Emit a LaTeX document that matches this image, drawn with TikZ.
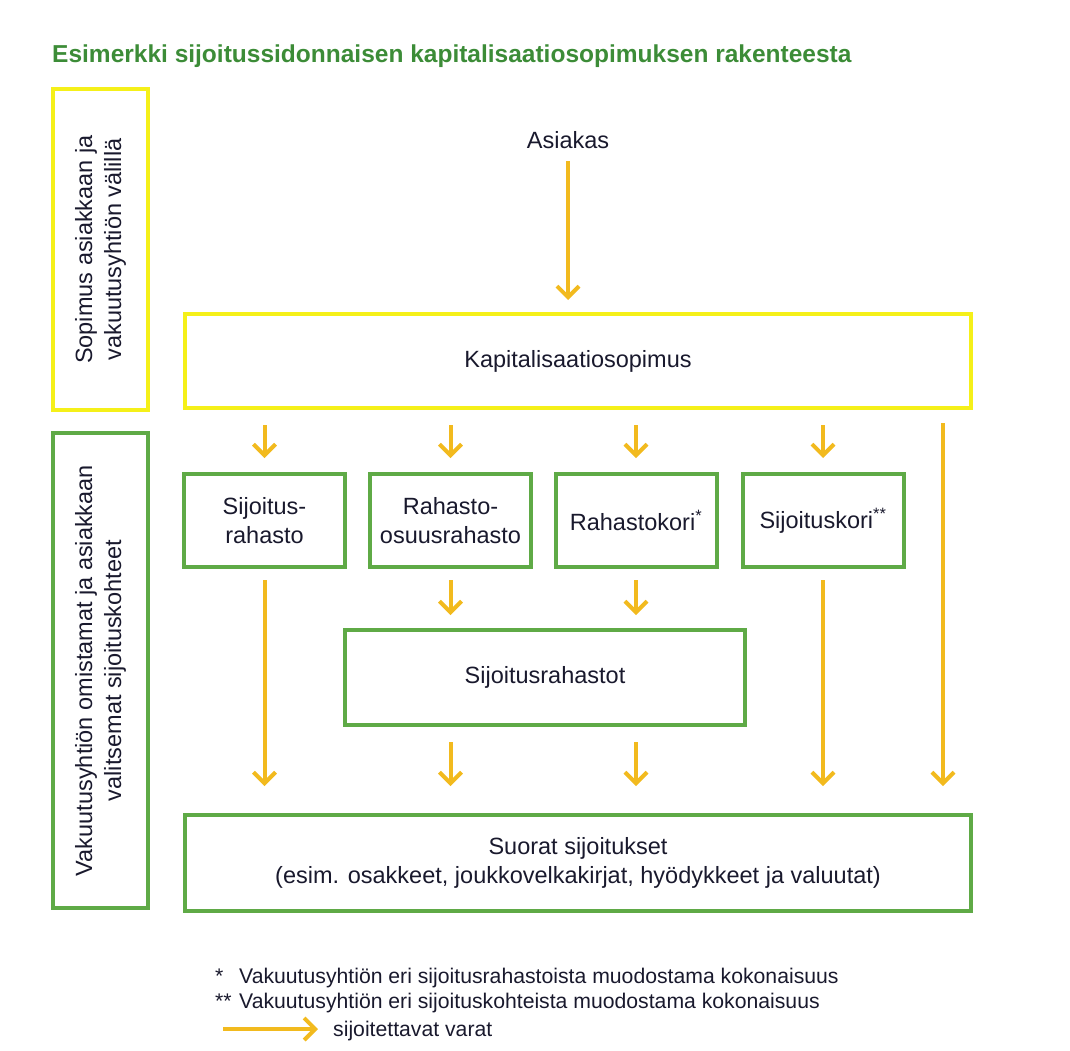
\documentclass[tikz,border=0pt]{standalone}
\usepackage{fontspec}
\setmainfont{Liberation Sans}
\usetikzlibrary{arrows.meta}
\definecolor{kulta}{RGB}{242,186,30}
\definecolor{keltaviiva}{RGB}{245,240,25}
\definecolor{vihrviiva}{RGB}{95,170,70}
\definecolor{otsikko}{RGB}{60,140,55}
\definecolor{tumma}{RGB}{25,25,45}
\begin{document}
\begin{tikzpicture}[x=1pt,y=-1pt,
   teksti/.style={text=tumma,font=\fontsize{23.5}{29}\selectfont,align=center},
   keltainen/.style={teksti,draw=keltaviiva,line width=4pt,inner sep=0pt},
   vihrea/.style={teksti,draw=vihrviiva,line width=4pt,inner sep=0pt},
   nuoli/.style={draw=kulta,line width=4pt,-{Straight Barb[length=11pt,width=22pt,line width=4pt]}}]
   \useasboundingbox (0,0) rectangle (1070,1050);

   % otsikko
   \node[anchor=base west,inner sep=0pt,text=otsikko,font=\fontsize{24.5}{28}\selectfont\bfseries] (otsikko) at (52,62) {Esimerkki sijoitussidonnaisen kapitalisaatiosopimuksen rakenteesta};

   % vasemman reunan laatikot
   \node[keltainen,rotate=90,minimum width=321,minimum height=95] (sopimus) at (100.5,249.5) {Sopimus asiakkaan ja\\vakuutusyhtiön välillä};
   \node[vihrea,rotate=90,minimum width=475,minimum height=95] (kohteet) at (100.5,670.5) {Vakuutusyhtiön omistamat ja asiakkaan\\valitsemat sijoituskohteet};

   % kaavio
   \node[teksti] (asiakas) at (568,140) {Asiakas};
   \node[keltainen,minimum width=786,minimum height=94] (kapital) at (578,361) {Kapitalisaatiosopimus};

   \node[vihrea,minimum width=161,minimum height=93] (sijrah) at (264.5,520.5) {Sijoitus-\\rahasto};
   \node[vihrea,minimum width=161,minimum height=93] (rahos) at (450.5,520.5) {Rahasto-\\osuusrahasto};
   \node[vihrea,minimum width=161,minimum height=93] (rkori) at (636,520.5) {Rahastokori\textsuperscript{*}};
   \node[vihrea,minimum width=161,minimum height=93] (skori) at (823,520.5) {Sijoituskori\textsuperscript{**}};

   \node[vihrea,minimum width=400,minimum height=95] (sijrahastot) at (545,677.5) {Sijoitusrahastot};
   \node[vihrea,minimum width=786,minimum height=96] (suorat) at (578,863) {Suorat sijoitukset\\(esim. osakkeet, joukkovelkakirjat, hyödykkeet ja valuutat)};
   \coordinate (oikea) at (943,408);

   \draw[nuoli,shorten <=9pt,shorten >=12pt] (asiakas) -- (asiakas |- kapital.north);
   \foreach \b in {sijrah,rahos,rkori,skori}
     \draw[nuoli,shorten <=15pt,shorten >=14pt] (kapital.south -| \b.north) -- (\b.north);
   \draw[nuoli,shorten <=15pt,shorten >=27pt] (oikea) -- (oikea |- suorat.north);
   \foreach \b in {sijrah,skori}
     \draw[nuoli,shorten <=11pt,shorten >=27pt] (\b.south) -- (\b.south |- suorat.north);
   \foreach \b in {rahos,rkori} {
     \draw[nuoli,shorten <=11pt,shorten >=13pt] (\b.south) -- (\b.south |- sijrahastot.north);
     \draw[nuoli,shorten <=15pt,shorten >=27pt] (sijrahastot.south -| \b.south) -- (suorat.north -| \b.south);
   }

   % selitteet
   \node[anchor=base west,inner sep=0pt,text=tumma,font=\fontsize{21.2}{25}\selectfont] (huom1) at (215,983) {\makebox[24pt][l]{*}Vakuutusyhtiön eri sijoitusrahastoista muodostama kokonaisuus};
   \node[anchor=base west,inner sep=0pt,text=tumma,font=\fontsize{21.2}{25}\selectfont] (huom2) at (215,1008) {\makebox[24pt][l]{**}Vakuutusyhtiön eri sijoituskohteista muodostama kokonaisuus};
   \coordinate (selA) at (223,1029);
   \coordinate (selB) at (318,1029);
   \draw[nuoli] (selA) -- (selB);
   \node[anchor=base west,inner sep=0pt,text=tumma,font=\fontsize{21.2}{25}\selectfont] (varat) at (333,1036) {sijoitettavat varat};
\end{tikzpicture}
\end{document}
